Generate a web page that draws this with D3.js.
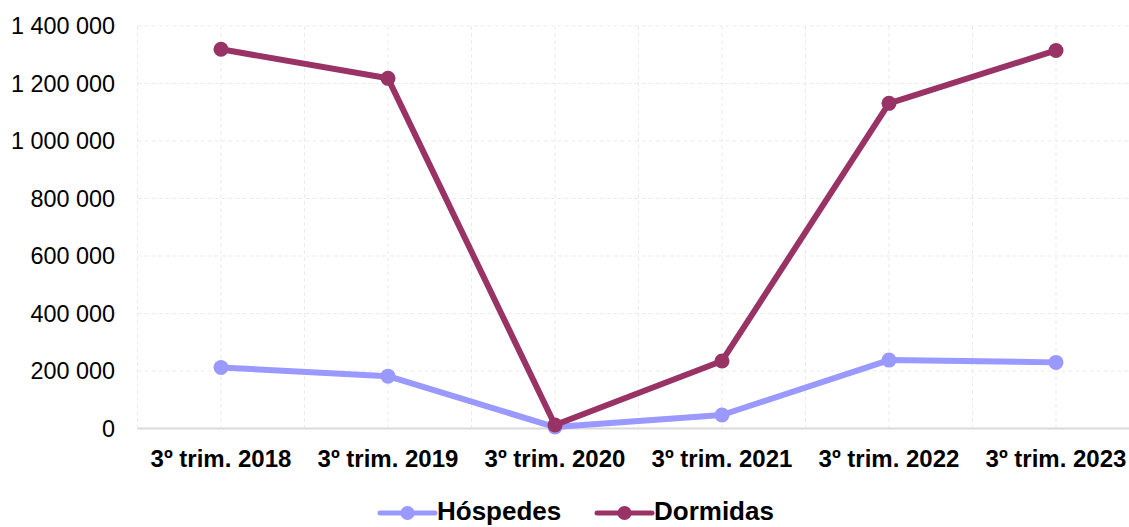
<!doctype html>
<html>
<head>
    <meta charset="utf-8">
    <style>
        body {
            margin: 0;
            background: #ffffff;
            font-family: "Liberation Sans", Arial, sans-serif;
        }
    </style>
    <script src="https://cdn.jsdelivr.net/npm/d3@7"></script>
</head>
<body>
<div id="my_chart"></div>
<script>
    // categories and values
    var periodos = ["3º trim. 2018", "3º trim. 2019", "3º trim. 2020", "3º trim. 2021", "3º trim. 2022", "3º trim. 2023"];
    var hospedes = [212000, 182000, 5000, 47000, 238000, 230000];
    var dormidas = [1319000, 1218000, 12000, 235000, 1131000, 1315000];
    var yTicks = [0, 200000, 400000, 600000, 800000, 1000000, 1200000, 1400000];

    var series = [
        {name: "Hóspedes", values: hospedes, color: "#9999ff"},
        {name: "Dormidas", values: dormidas, color: "#993366"}
    ];

    var W = 1129, H = 527;
    var margin = {top: 26, left: 137.5, bottom: 428.5};

    var svg = d3.select("#my_chart")
        .append("svg")
        .attr("width", W)
        .attr("height", H);

    var x = d3.scaleBand()
        .domain(periodos)
        .range([margin.left, margin.left + 167 * periodos.length]);

    var y = d3.scaleLinear()
        .domain([0, 1400000])
        .range([margin.bottom, margin.top]);

    var fmt = function(v) { return d3.format(",")(v).replace(/,/g, " "); };

    // grid: horizontal lines at ticks
    svg.append("g")
        .selectAll("line")
        .data(yTicks.slice(1))
        .enter()
        .append("line")
        .attr("x1", margin.left)
        .attr("x2", W)
        .attr("y1", function(d) { return y(d); })
        .attr("y2", function(d) { return y(d); })
        .attr("stroke", "#ebebeb")
        .attr("stroke-dasharray", "4,3");

    // grid: vertical lines at band edges and centres
    var vx = [];
    periodos.forEach(function(p) {
        vx.push(x(p));
        vx.push(x(p) + x.bandwidth() / 2);
    });
    svg.append("g")
        .selectAll("line")
        .data(vx)
        .enter()
        .append("line")
        .attr("x1", function(d) { return d; })
        .attr("x2", function(d) { return d; })
        .attr("y1", margin.top)
        .attr("y2", margin.bottom)
        .attr("stroke", "#ebebeb")
        .attr("stroke-dasharray", "4,3");

    // x axis line
    svg.append("line")
        .attr("x1", margin.left)
        .attr("x2", W)
        .attr("y1", margin.bottom)
        .attr("y2", margin.bottom)
        .attr("stroke", "#d9d9d9")
        .attr("stroke-width", 2);

    // y axis labels
    svg.append("g")
        .selectAll("text")
        .data(yTicks)
        .enter()
        .append("text")
        .attr("x", 115)
        .attr("y", function(d) { return y(d); })
        .attr("dy", "0.35em")
        .attr("text-anchor", "end")
        .attr("font-size", "23.4px")
        .attr("fill", "#000")
        .text(fmt);

    // x axis labels
    svg.append("g")
        .selectAll("text")
        .data(periodos)
        .enter()
        .append("text")
        .attr("x", function(d) { return x(d) + x.bandwidth() / 2; })
        .attr("y", 467)
        .attr("text-anchor", "middle")
        .attr("font-size", "24px")
        .attr("font-weight", "bold")
        .attr("fill", "#000")
        .text(function(d) { return d; });

    var line = d3.line()
        .x(function(d, i) { return x(periodos[i]) + x.bandwidth() / 2; })
        .y(function(d) { return y(d); });

    series.forEach(function(s) {
        svg.append("path")
            .datum(s.values)
            .attr("fill", "none")
            .attr("stroke", s.color)
            .attr("stroke-width", 6)
            .attr("stroke-linejoin", "round")
            .attr("d", line);

        svg.append("g")
            .selectAll("circle")
            .data(s.values)
            .enter()
            .append("circle")
            .attr("cx", function(d, i) { return x(periodos[i]) + x.bandwidth() / 2; })
            .attr("cy", function(d) { return y(d); })
            .attr("r", 7.5)
            .attr("fill", s.color);
    });

    // legend
    var legendX = [380, 597];
    var legend = svg.append("g")
        .selectAll("g")
        .data(series)
        .enter()
        .append("g")
        .attr("transform", function(d, i) { return "translate(" + legendX[i] + ",513)"; });

    legend.append("line")
        .attr("x1", 0).attr("x2", 55)
        .attr("y1", 0).attr("y2", 0)
        .attr("stroke", function(d) { return d.color; })
        .attr("stroke-width", 5)
        .attr("stroke-linecap", "round");

    legend.append("circle")
        .attr("cx", 27.5).attr("cy", 0)
        .attr("r", 7)
        .attr("fill", function(d) { return d.color; });

    legend.append("text")
        .attr("x", 57)
        .attr("y", 7)
        .attr("font-size", "26px")
        .attr("font-weight", "bold")
        .attr("fill", "#000")
        .text(function(d) { return d.name; });
</script>
</body>
</html>
